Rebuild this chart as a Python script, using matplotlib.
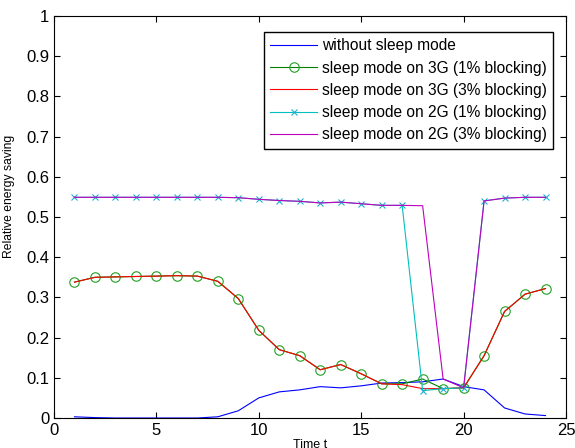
import matplotlib
matplotlib.use("Agg")
import matplotlib.pyplot as plt

plt.rcParams['font.family'] = ['Liberation Sans', 'DejaVu Sans']

t = list(range(1, 25))
no_sleep = [0.003, 0.001, 0.0, 0.0, 0.0, 0.0, 0.0, 0.003, 0.018, 0.05, 0.065, 0.07,
            0.078, 0.075, 0.08, 0.087, 0.088, 0.09, 0.097, 0.078, 0.07, 0.025, 0.01, 0.006]
g3_1 = [0.338, 0.35, 0.351, 0.352, 0.353, 0.354, 0.353, 0.34, 0.297, 0.218, 0.17, 0.155,
        0.12, 0.133, 0.11, 0.085, 0.085, 0.097, 0.073, 0.075, 0.155, 0.265, 0.308, 0.322]
g3_3 = [0.338, 0.35, 0.351, 0.352, 0.353, 0.354, 0.353, 0.34, 0.297, 0.218, 0.17, 0.155,
        0.12, 0.133, 0.11, 0.085, 0.083, 0.073, 0.073, 0.075, 0.155, 0.265, 0.308, 0.322]
g2_1 = [0.549, 0.549, 0.549, 0.549, 0.549, 0.549, 0.549, 0.549, 0.548, 0.544, 0.541, 0.539,
        0.535, 0.537, 0.533, 0.529, 0.529, 0.068, 0.073, 0.075, 0.54, 0.547, 0.549, 0.549]
g2_3 = [0.549, 0.549, 0.549, 0.549, 0.549, 0.549, 0.549, 0.549, 0.548, 0.544, 0.541, 0.539,
        0.535, 0.537, 0.533, 0.529, 0.529, 0.528, 0.097, 0.075, 0.54, 0.547, 0.549, 0.549]

labels = ["without sleep mode", "sleep mode on 3G (1% blocking)", "sleep mode on 3G (3% blocking)",
          "sleep mode on 2G (1% blocking)", "sleep mode on 2G (3% blocking)"]
xticks = [0, 5, 10, 15, 20, 25]
yticks = [0, 0.1, 0.2, 0.3, 0.4, 0.5, 0.6, 0.7, 0.8, 0.9, 1]
ytick_labels = ["0", "0.1", "0.2", "0.3", "0.4", "0.5", "0.6", "0.7", "0.8", "0.9", "1"]

fig = plt.figure(figsize=(5.75, 4.48), dpi=100)
ax = fig.add_axes([54/575, 1-418/448, (566-54)/575, (418-16)/448])

ax.plot(t, no_sleep, color='#0000ff', lw=0.8, label=labels[0])
ax.plot(t, g3_1, color='#008000', lw=0.8, marker='o', markersize=6.8, markerfacecolor='none',
        markeredgecolor='#22a022', markeredgewidth=0.8, label=labels[1])
ax.plot(t, g3_3, color='#ff0000', lw=0.8, label=labels[2])
ax.plot(t, g2_1, color='#00bfbf', lw=0.8, marker='x', markersize=4.5, markeredgewidth=0.8,
        markeredgecolor='#20b0d0', label=labels[3])
ax.plot(t, g2_3, color='#bf00bf', lw=0.8, label=labels[4])

ax.set_xlim(0, 25)
ax.set_ylim(0, 1)
ax.set_xticks(xticks)
ax.set_yticks(yticks)
ax.set_yticklabels(ytick_labels)
ax.tick_params(direction='in', top=True, right=True, labelsize=12, length=4, width=0.8)
for s in ax.spines.values():
    s.set_linewidth(0.8)
ax.set_ylabel("Relative energy saving", fontsize=8.7)
ax.yaxis.set_label_coords(-0.076, 0.552)
ax.set_xlabel("Time t", fontsize=9)
ax.xaxis.set_label_coords(0.5, -0.052)

leg = ax.legend(loc='upper right', bbox_to_anchor=(553/575, 1-32/448), bbox_transform=fig.transFigure,
                fontsize=11.2, fancybox=False, framealpha=1, edgecolor='black',
                handlelength=3.0, borderpad=0.4, labelspacing=0.47, handletextpad=0.32, borderaxespad=0)
leg.get_frame().set_linewidth(1.0)

fig.savefig("out.png", dpi=100)
